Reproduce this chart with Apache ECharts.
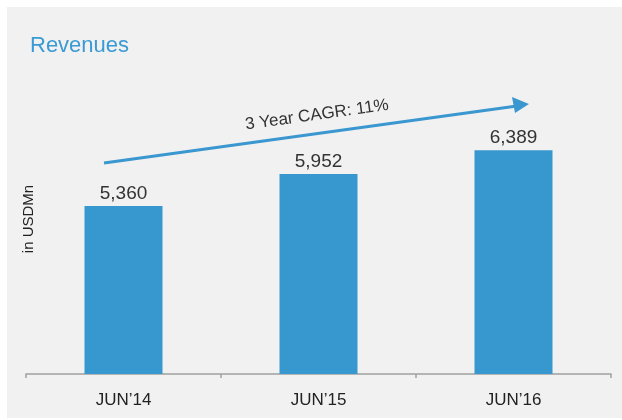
<!DOCTYPE html>
<html><head><meta charset="utf-8">
<script src="https://cdn.jsdelivr.net/npm/echarts@6/dist/echarts.min.js"></script>
<style>html,body{margin:0;padding:0;background:#fff;}#c{position:absolute;left:7px;top:7px;width:615px;height:411px;background:#f1f1f1;}</style>
</head><body><div id="c"></div>
<script>
var categories = ["JUN\u201914", "JUN\u201915", "JUN\u201916"];
var revenues = [5360, 5952, 6389];
var titleText = "Revenues";
var axisName = "in USDMn";
var cagrText = "3 Year CAGR: 11%";

var chart = echarts.init(document.getElementById('c'), null, {renderer: 'canvas'});
var font = "'Liberation Sans', Arial, sans-serif";
chart.setOption({
  backgroundColor: '#f1f1f1',
  animation: false,
  title: {text: titleText, left: 18, top: 23, textStyle: {color: '#3a9ad4', fontSize: 22, fontWeight: 'normal', fontFamily: font}},
  grid: {left: 19, right: 11, top: 110, bottom: 44, containLabel: false},
  xAxis: {type: 'category', data: categories,
    axisLine: {lineStyle: {color: '#a0a0a0', width: 1.5}},
    axisTick: {show: true, length: 4, lineStyle: {color: '#a0a0a0', width: 1.5}},
    axisLabel: {color: '#222', fontSize: 17, fontFamily: font, margin: 18}},
  yAxis: {type: 'value', min: 2270, max: 7000, show: false, splitLine: {show: false}},
  series: [{type: 'bar', data: revenues, barWidth: '40%', itemStyle: {color: '#3797cf'},
    label: {show: true, position: 'top', distance: 3, color: '#333', fontSize: 19, fontFamily: font,
      formatter: function (p) { return p.value.toLocaleString('en-US'); }}}],
  graphic: [
    {type: 'text', x: 22, y: 212, rotation: Math.PI / 2,
      style: {text: axisName, fill: '#222', font: '15px ' + font, align: 'center', verticalAlign: 'middle'}},
    {type: 'line', shape: {x1: 97, y1: 156, x2: 510, y2: 99}, style: {stroke: '#3a97cf', lineWidth: 3}},
    {type: 'polygon', shape: {points: [[522, 97], [505, 90], [508, 106]]}, style: {fill: '#3a97cf'}},
    {type: 'text', x: 310, y: 108, rotation: 7.9 * Math.PI / 180,
      style: {text: cagrText, fill: '#333', font: '17px ' + font, align: 'center', verticalAlign: 'middle'}}
  ]
});
</script></body></html>
